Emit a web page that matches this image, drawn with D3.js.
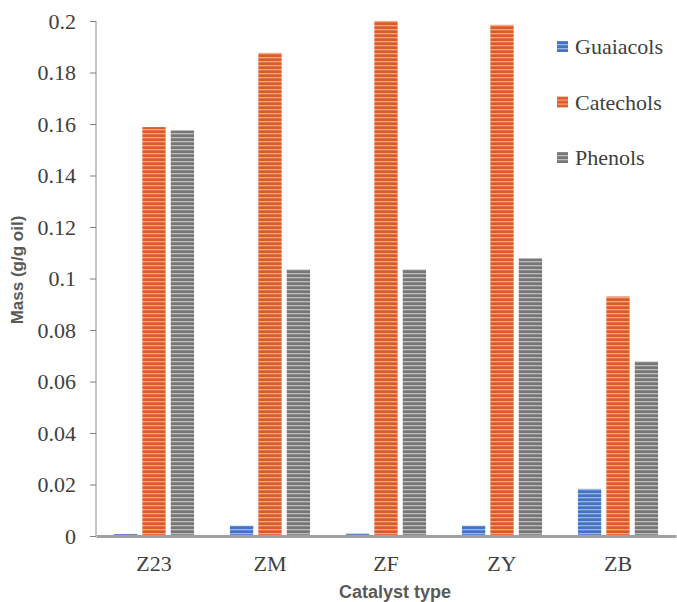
<!DOCTYPE html>
<html>
<head>
<meta charset="utf-8">
<script src="https://cdn.jsdelivr.net/npm/d3@7"></script>
<style>
  body { margin: 0; background: #fff; }
</style>
</head>
<body>
<div id="chart"></div>
<script>
let catalysts = ['Z23', 'ZM', 'ZF', 'ZY', 'ZB']
let seriesNames = ['Guaiacols', 'Catechols', 'Phenols']
let guaiacols = [0.0008, 0.004, 0.001, 0.004, 0.0183]
let catechols = [0.1588, 0.1876, 0.2, 0.1985, 0.093]
let phenols = [0.1575, 0.1035, 0.1035, 0.1078, 0.0678]
let yTicks = [0, 0.02, 0.04, 0.06, 0.08, 0.1, 0.12, 0.14, 0.16, 0.18, 0.2]

let width = 677,
  height = 602

let margin = { top: 21, right: 1, bottom: 66, left: 96 }
let serif = "'Liberation Serif', 'Times New Roman', serif"
let sans = "'Liberation Sans', Arial, sans-serif"

let colors = {
  Guaiacols: { base: '#4472c4', light: '#9db7e3' },
  Catechols: { base: '#de5a26', light: '#f3a783' },
  Phenols: { base: '#767676', light: '#bdbdbd' }
}

let svg = d3.select('#chart')
  .append('svg')
  .attr('width', width)
  .attr('height', height)

// striped fills
let defs = svg.append('defs')
seriesNames.forEach(name => {
  let p = defs.append('pattern')
    .attr('id', 'pat-' + name)
    .attr('patternUnits', 'userSpaceOnUse')
    .attr('width', 8)
    .attr('height', 4)
  p.append('rect').attr('width', 8).attr('height', 4).attr('fill', colors[name].base)
  p.append('rect').attr('y', 1).attr('width', 8).attr('height', 1.3).attr('fill', colors[name].light)
})

let rows = catalysts.map((c, i) => ({
  name: c,
  Guaiacols: guaiacols[i],
  Catechols: catechols[i],
  Phenols: phenols[i]
}))

let x0 = d3.scaleBand()
  .domain(catalysts)
  .range([margin.left, width - margin.right])
  .paddingInner(0.31)
  .paddingOuter(0.155)

let x1 = d3.scaleBand()
  .domain(seriesNames)
  .range([0, x0.bandwidth()])
  .paddingInner(0.18)

let y = d3.scaleLinear()
  .domain([0, 0.2])
  .range([height - margin.bottom, margin.top])

// y axis
let yAxis = svg.append('g')
  .attr('transform', `translate(${margin.left},0)`)
  .call(d3.axisLeft(y).tickValues(yTicks).tickFormat(d => d3.format('~g')(d)).tickSize(6).tickPadding(14))
yAxis.select('.domain').attr('stroke', '#8c8c8c').attr('d', `M0,${y(0.2)}V${y(0)}`)
yAxis.selectAll('.tick line').attr('stroke', '#7f7f7f')
yAxis.selectAll('.tick text')
  .attr('fill', '#404040')
  .style('font-family', serif)
  .style('font-size', '22px')

// bars
let groups = svg.selectAll('.group')
  .data(rows)
  .enter()
  .append('g')
  .attr('class', 'group')
  .attr('transform', d => `translate(${x0(d.name)},0)`)

groups.selectAll('rect')
  .data(d => seriesNames.map(k => ({ key: k, value: d[k] })))
  .enter()
  .append('rect')
  .attr('x', d => x1(d.key))
  .attr('y', d => y(d.value))
  .attr('width', x1.bandwidth())
  .attr('height', d => y(0) - y(d.value))
  .attr('fill', d => `url(#pat-${d.key})`)

// x axis
let xAxis = svg.append('g')
  .attr('transform', `translate(0,${y(0)})`)
  .call(d3.axisBottom(x0).tickSize(0).tickPadding(19))
xAxis.select('.domain').attr('stroke', '#a0a0a0').attr('stroke-width', 3)
xAxis.selectAll('.tick text')
  .attr('fill', '#404040')
  .style('font-family', serif)
  .style('font-size', '22px')

// axis titles
svg.append('text')
  .attr('transform', `translate(23,270) rotate(-90)`)
  .attr('text-anchor', 'middle')
  .attr('fill', '#595959')
  .style('font-family', sans)
  .style('font-weight', 'bold')
  .style('font-size', '17px')
  .text('Mass (g/g oil)')

svg.append('text')
  .attr('x', 395)
  .attr('y', 598)
  .attr('text-anchor', 'middle')
  .attr('fill', '#595959')
  .style('font-family', sans)
  .style('font-weight', 'bold')
  .style('font-size', '18px')
  .text('Catalyst type')

// legend
let legend = svg.selectAll('.legend')
  .data(seriesNames)
  .enter()
  .append('g')
  .attr('class', 'legend')
  .attr('transform', (d, i) => `translate(557,${47 + i * 55.5})`)

legend.append('rect')
  .attr('x', 0)
  .attr('y', -6)
  .attr('width', 11)
  .attr('height', 11)
  .attr('fill', d => `url(#pat-${d})`)

legend.append('text')
  .attr('x', 18)
  .attr('y', 7)
  .attr('fill', '#404040')
  .style('font-family', serif)
  .style('font-size', '22px')
  .text(d => d)
</script>
</body>
</html>
